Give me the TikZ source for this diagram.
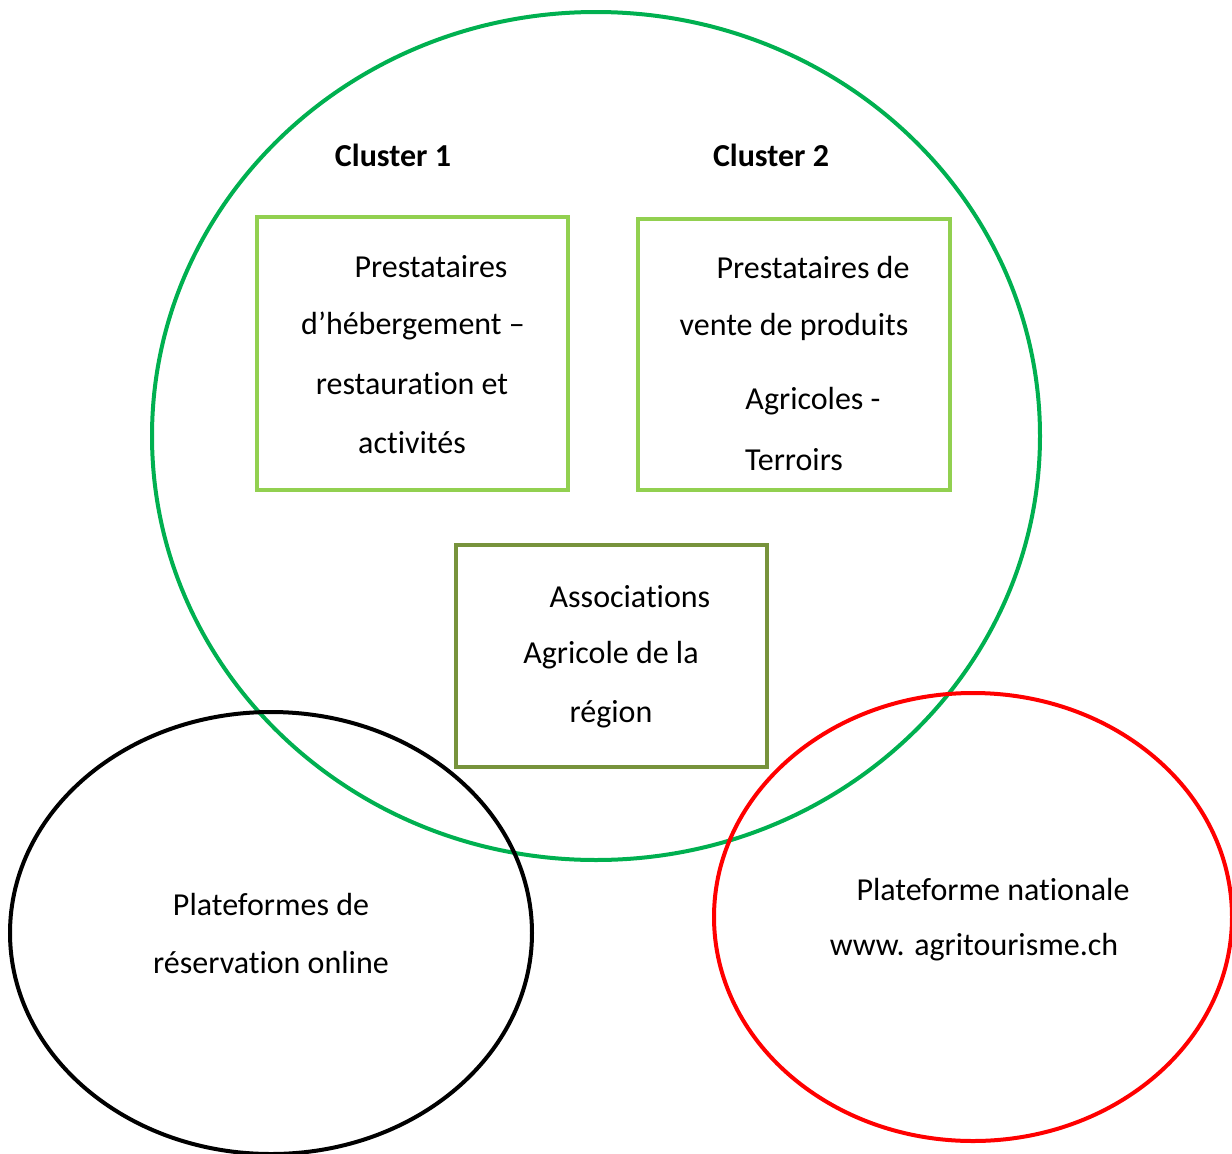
\documentclass[tikz,border=0pt]{standalone}
\usepackage{fontspec}
\setmainfont{Carlito}[Ligatures=NoCommon]
\definecolor{biggreen}{RGB}{0,176,80}
\definecolor{lightgreen}{RGB}{146,208,80}
\definecolor{olive}{RGB}{119,147,60}
\definecolor{redc}{RGB}{255,0,0}
\begin{document}
\begin{tikzpicture}[x=1pt,y=-1pt,
  txt/.style={inner sep=0pt,font=\fontsize{32}{38}\selectfont,anchor=center},
  boxline/.style={line width=4pt},
  ring/.style={line width=4pt}]
\useasboundingbox (0,0) rectangle (1232,1154);
% shapes
\draw[ring,biggreen] (596,436) ellipse [x radius=444, y radius=424];
\node[draw=lightgreen,boxline,minimum width=311,minimum height=273,inner sep=0pt] (b1) at (412.5,353.5) {};
\node[draw=lightgreen,boxline,minimum width=312,minimum height=271,inner sep=0pt] (b2) at (794,354.5) {};
\node[draw=olive,boxline,minimum width=311,minimum height=222,inner sep=0pt] (b3) at (611.5,656) {};
\draw[ring,black] (271,933) ellipse [x radius=261, y radius=221];
\draw[ring,redc] (973,917) ellipse [x radius=259, y radius=224];
% texts
\node[txt,font=\fontsize{32}{38}\selectfont\bfseries] (c1) at (393,155) {Cluster 1};
\node[txt,font=\fontsize{32}{38}\selectfont\bfseries] (c2) at (771,155) {Cluster 2};
\node[txt] (t11) at (431,267) {Prestataires};
\node[txt] (t12) at (413,326) {d’hébergement –};
\node[txt] (t13) at (412,384) {restauration et};
\node[txt] (t14) at (412,443) {activités};
\node[txt] (t21) at (813,268) {Prestataires de};
\node[txt] (t22) at (794,327) {vente de produits};
\node[txt] (t23) at (813,401) {Agricoles -};
\node[txt] (t24) at (794,460) {Terroirs};
\node[txt] (t31) at (630,597) {Associations};
\node[txt] (t32) at (611,655) {Agricole de la};
\node[txt] (t33) at (611,714) {région};
\node[txt] (t41) at (271,904) {Plateformes de};
\node[txt] (t42) at (271,962) {réservation online};
\node[txt] (t51) at (993,889) {Plateforme nationale};
\node[txt] (t52) at (974,947) {www. agritourisme.ch};
\end{tikzpicture}
\end{document}
